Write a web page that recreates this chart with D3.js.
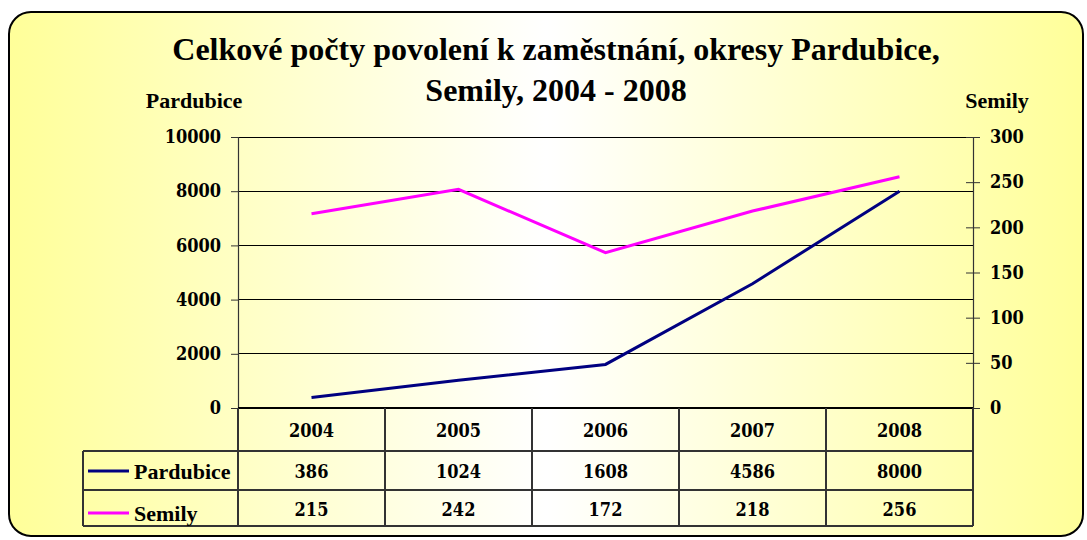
<!DOCTYPE html>
<html><head><meta charset="utf-8">
<script src="https://cdn.jsdelivr.net/npm/d3@7"></script>
<style>body{margin:0;background:#fff}</style>
</head><body>
<svg id="c" width="1087" height="540"></svg>
<script>
const categories = ["2004","2005","2006","2007","2008"];
const pardubice = [386,1024,1608,4586,8000];
const semily = [215,242,172,218,256];
const leftTicks = [0,2000,4000,6000,8000,10000];
const rightTicks = [0,50,100,150,200,250,300];
const titleLines = ["Celkové počty povolení k zaměstnání, okresy Pardubice,","Semily, 2004 - 2008"];
const seriesNames = ["Pardubice","Semily"];
const seriesColors = ["#000080","#FF00FF"];

const svg = d3.select("#c");
const defs = svg.append("defs");
const g = defs.append("linearGradient").attr("id","bg").attr("x1","0").attr("x2","1").attr("y1","0").attr("y2","0");
g.append("stop").attr("offset","0").attr("stop-color","#FFFF99");
g.append("stop").attr("offset","0.5").attr("stop-color","#FFFFFF");
g.append("stop").attr("offset","1").attr("stop-color","#FFFF99");

svg.append("rect").attr("x",9).attr("y",12).attr("width",1074).attr("height",524).attr("rx",22)
  .attr("fill","url(#bg)").attr("stroke","#000").attr("stroke-width",2);

const numFont = "'DejaVu Serif Condensed','DejaVu Serif',serif";
const txtFont = "'Liberation Serif','Times New Roman',serif";

// title
svg.append("g").selectAll("text").data(titleLines).join("text")
  .attr("x",556).attr("y",(d,i)=>60+i*41).attr("text-anchor","middle")
  .attr("font-family",txtFont).attr("font-weight","bold").attr("font-size",32).text(d=>d);

const L=238, R=973, T=137, B=408;
const x = d3.scaleBand().domain(categories).range([L,R]);
const yL = d3.scaleLinear().domain([0,10000]).range([B,T]);
const yR = d3.scaleLinear().domain([0,300]).range([B,T]);

// gridlines
svg.append("g").selectAll("line").data(leftTicks.slice(1)).join("line")
  .attr("x1",L).attr("x2",R).attr("y1",d=>yL(d)).attr("y2",d=>yL(d))
  .attr("stroke","#000").attr("stroke-width",1).attr("shape-rendering","crispEdges");

// left axis
const la = svg.append("g").attr("transform",`translate(${L},0)`)
  .call(d3.axisLeft(yL).tickValues(leftTicks).tickSize(7).tickPadding(10).tickFormat(d3.format("d")));
la.select(".domain").attr("stroke","#333").attr("stroke-width",1.2);
la.selectAll(".tick line").attr("stroke","#333");
la.selectAll("text").attr("font-family",numFont).attr("font-weight","bold").attr("font-size",18).attr("fill","#000");

// right axis
const ra = svg.append("g").attr("transform",`translate(${R},0)`)
  .call(d3.axisRight(yR).tickValues(rightTicks).tickSize(7).tickPadding(10).tickFormat(d3.format("d")));
ra.select(".domain").attr("stroke","#333").attr("stroke-width",1.2);
ra.selectAll(".tick line").attr("stroke","#333").attr("x1",-7);
ra.selectAll("text").attr("font-family",numFont).attr("font-weight","bold").attr("font-size",18).attr("fill","#000");

// axis titles
svg.append("text").attr("x",194).attr("y",108).attr("text-anchor","middle")
  .attr("font-family",txtFont).attr("font-weight","bold").attr("font-size",22).text(seriesNames[0]);
svg.append("text").attr("x",997).attr("y",108).attr("text-anchor","middle")
  .attr("font-family",txtFont).attr("font-weight","bold").attr("font-size",22).text(seriesNames[1]);

// lines
const cx = d => x(d)+x.bandwidth()/2;
const line1 = d3.line().x((d,i)=>cx(categories[i])).y(d=>yL(d));
const line2 = d3.line().x((d,i)=>cx(categories[i])).y(d=>yR(d));
svg.append("path").attr("d",line2(semily)).attr("fill","none").attr("stroke",seriesColors[1]).attr("stroke-width",3);
svg.append("path").attr("d",line1(pardubice)).attr("fill","none").attr("stroke",seriesColors[0]).attr("stroke-width",3);

// data table
const rowH = [B, 451, 490, 526];
const legL = 83;
const tb = svg.append("g").attr("stroke","#333").attr("stroke-width",1.2).attr("shape-rendering","crispEdges");
tb.append("line").attr("x1",legL).attr("x2",R).attr("y1",rowH[1]).attr("y2",rowH[1]);
tb.append("line").attr("x1",legL).attr("x2",R).attr("y1",rowH[2]).attr("y2",rowH[2]);
tb.append("line").attr("x1",legL).attr("x2",R).attr("y1",rowH[3]).attr("y2",rowH[3]);
tb.append("line").attr("x1",legL).attr("x2",legL).attr("y1",rowH[1]).attr("y2",rowH[3]);
tb.append("line").attr("x1",L).attr("x2",R).attr("y1",B).attr("y2",B).attr("stroke","#000");
tb.selectAll(".v").data(categories.map(c=>x(c)).concat([R])).join("line")
  .attr("x1",d=>d).attr("x2",d=>d).attr("y1",B).attr("y2",rowH[3]);

const txt = svg.append("g").attr("font-family",numFont).attr("font-weight","bold").attr("font-size",18).attr("text-anchor","middle");
txt.selectAll(".cat").data(categories).join("text").attr("x",d=>cx(d)).attr("y",437).text(d=>d);
txt.selectAll(".p").data(pardubice).join("text").attr("x",(d,i)=>cx(categories[i])).attr("y",478).text(d=>d);
txt.selectAll(".s").data(semily).join("text").attr("x",(d,i)=>cx(categories[i])).attr("y",516).text(d=>d);

// legend keys
const leg = svg.append("g");
[0,1].forEach(i=>{
  const yy = i===0 ? 472 : 514;
  leg.append("line").attr("x1",88).attr("x2",129).attr("y1",yy-1).attr("y2",yy-1).attr("stroke",seriesColors[i]).attr("stroke-width",3);
  leg.append("text").attr("x",134).attr("y",yy+7).attr("font-family",txtFont).attr("font-weight","bold").attr("font-size",22).text(seriesNames[i]);
});
</script>
</body></html>
